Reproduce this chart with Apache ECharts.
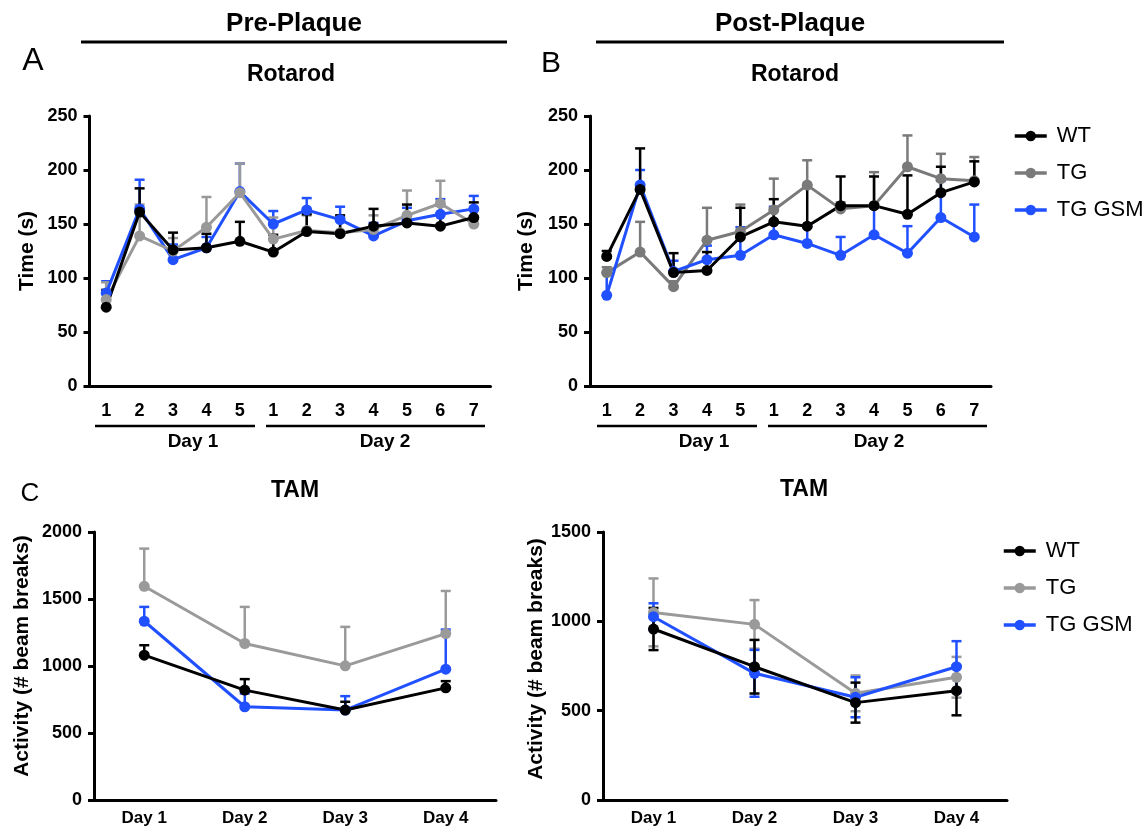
<!DOCTYPE html>
<html><head><meta charset="utf-8">
<script src="https://cdn.jsdelivr.net/npm/echarts@6/dist/echarts.min.js"></script>
<style>html,body{margin:0;padding:0;background:#fff}#c{width:1148px;height:837px}</style>
</head><body><div id="c"></div>
<script>
// ---------- data ----------
const trialLabels = ['1','2','3','4','5','1','2','3','4','5','6','7'];
const dayLabels = ['Day 1','Day 2','Day 3','Day 4'];

// Panel A: Pre-Plaque Rotarod (mean, SEM)
const preRotWT      = [73, 161, 126, 128, 134, 124, 143, 141, 148, 151, 148, 156];
const preRotWTErr   = [16, 22, 16, 13, 18, 16, 16, 17, 16, 17, 19, 14];
const preRotTG      = [80, 139, 125, 147, 179, 136, 144, 142, 145, 158, 169, 150];
const preRotTGErr   = [16, 29, 12, 28, 27, 20, 14, 14, 13, 23, 21, 13];
const preRotGSM     = [86, 164, 117, 128, 180, 150, 163, 154, 139, 153, 159, 164];
const preRotGSMErr  = [11, 27, 14, 10, 26, 12, 11, 12, 12, 12, 14, 12];

// Panel B: Post-Plaque Rotarod
const postRotWT     = [120, 182, 105, 107, 138, 152, 148, 167, 167, 159, 179, 189];
const postRotWTErr  = [5, 38, 18, 17, 27, 21, 38, 27, 27, 36, 24, 19];
const postRotTG     = [105, 124, 92, 135, 143, 163, 186, 164, 167, 203, 192, 190];
const postRotTGErr  = [5, 28, 5, 30, 25, 29, 23, 6, 31, 29, 23, 22];
const postRotGSM    = [84, 186, 106, 117, 121, 140, 132, 121, 140, 123, 156, 138];
const postRotGSMErr = [21, 14, 10, 13, 26, 26, 15, 17, 25, 25, 34, 30];

// Panel C left: Pre-Plaque TAM
const preTamWT      = [1081, 820, 671, 837];
const preTamWTErr   = [74, 82, 62, 50];
const preTamTG      = [1595, 1168, 1001, 1242];
const preTamTGErr   = [281, 273, 291, 318];
const preTamGSM     = [1334, 696, 671, 976];
const preTamGSMErr  = [107, 99, 104, 296];

// Panel C right: Post-Plaque TAM
const postTamWT     = [957, 746, 545, 612];
const postTamWTErr  = [118, 150, 112, 138];
const postTamTG     = [1050, 983, 597, 687];
const postTamTGErr  = [190, 136, 100, 114];
const postTamGSM    = [1026, 709, 575, 746];
const postTamGSMErr = [75, 131, 112, 143];

// ---------- styling ----------
const BLACK = '#000000', BLUE = '#2050ff', GRAY_A = '#999999', GRAY_B = '#7a7a7a', GRAY_C = '#9a9a9a';
const FONT = "'Liberation Sans', Arial, sans-serif";

function errRender(both) {
  return function (params, api) {
    const i = api.value(0), lo = api.value(1), hi = api.value(2);
    const p0 = api.coord([i, lo]), p1 = api.coord([i, hi]);
    const w = 5;
    const style = { stroke: api.visual('color'), lineWidth: 2.5 };
    const ch = [
      { type: 'line', shape: { x1: p0[0], y1: p0[1], x2: p1[0], y2: p1[1] }, style },
      { type: 'line', shape: { x1: p1[0] - w, y1: p1[1], x2: p1[0] + w, y2: p1[1] }, style }
    ];
    if (both) ch.push({ type: 'line', shape: { x1: p0[0] - w, y1: p0[1], x2: p0[0] + w, y2: p0[1] }, style });
    return { type: 'group', children: ch };
  };
}

const series = [];
function addGroup(idx, name, color, mean, err, both) {
  series.push({
    type: 'custom', xAxisIndex: idx, yAxisIndex: idx, silent: true,
    itemStyle: { color }, renderItem: errRender(both),
    encode: { x: 0, y: [1, 2] },
    data: mean.map((m, i) => [i, both ? m - err[i] : m, m + err[i]])
  });
  series.push({
    type: 'line', name, xAxisIndex: idx, yAxisIndex: idx, data: mean,
    symbol: 'circle', symbolSize: 11, showSymbol: true,
    itemStyle: { color }, lineStyle: { color, width: 3 }
  });
}
addGroup(0, 'TG GSM', BLUE, preRotGSM, preRotGSMErr, false);
addGroup(0, 'TG', GRAY_A, preRotTG, preRotTGErr, false);
addGroup(0, 'WT', BLACK, preRotWT, preRotWTErr, false);
addGroup(1, 'TG', GRAY_B, postRotTG, postRotTGErr, false);
addGroup(1, 'TG GSM', BLUE, postRotGSM, postRotGSMErr, false);
addGroup(1, 'WT', BLACK, postRotWT, postRotWTErr, false);
addGroup(2, 'TG', GRAY_C, preTamTG, preTamTGErr, false);
addGroup(2, 'TG GSM', BLUE, preTamGSM, preTamGSMErr, false);
addGroup(2, 'WT', BLACK, preTamWT, preTamWTErr, false);
addGroup(3, 'TG', GRAY_C, postTamTG, postTamTGErr, true);
addGroup(3, 'TG GSM', BLUE, postTamGSM, postTamGSMErr, true);
addGroup(3, 'WT', BLACK, postTamWT, postTamWTErr, true);

const axisLine = { lineStyle: { color: '#000', width: 3 } };
const axisTick = { length: 6, lineStyle: { color: '#000', width: 3 } };
const tickFont = { color: '#000', fontSize: 18, fontWeight: 'bold', fontFamily: FONT };
const nameFont = { color: '#000', fontSize: 21, fontWeight: 'bold', fontFamily: FONT };

function xAx(idx, labels, margin, size) {
  return {
    type: 'category', gridIndex: idx, data: labels, boundaryGap: true,
    axisLine, axisTick: Object.assign({ alignWithLabel: true }, axisTick),
    axisLabel: Object.assign({}, tickFont, { margin, fontSize: size, interval: 0 }),
    splitLine: { show: false }
  };
}
function yAx(idx, max, interval, name, gap, namePad) {
  return {
    type: 'value', gridIndex: idx, min: 0, max, interval, name, nameLocation: 'middle', nameGap: gap,
    nameTextStyle: Object.assign({ padding: namePad }, nameFont),
    axisLine: Object.assign({ show: true }, axisLine), axisTick: Object.assign({ show: true }, axisTick),
    axisLabel: Object.assign({}, tickFont, { margin: 12, formatter: v => String(v) }), splitLine: { show: false }
  };
}

function legendData(gray) {
  return [
    { name: 'WT', itemStyle: { color: BLACK }, lineStyle: { color: BLACK, width: 3.5 } },
    { name: 'TG', itemStyle: { color: gray }, lineStyle: { color: gray, width: 3.5 } },
    { name: 'TG GSM', itemStyle: { color: BLUE }, lineStyle: { color: BLUE, width: 3.5 } }
  ];
}
const legendText = { fontSize: 22, lineHeight: 22, fontFamily: FONT, color: '#000', padding: [0, 0, 0, 5] };

const txt = (x, y, text, size, weight) => ({
  type: 'text', x, y, silent: true,
  style: { text, fontSize: size, fontWeight: weight, fontFamily: FONT, fill: '#000', align: 'center', verticalAlign: 'middle' }
});
const ln = (x1, y1, x2, y2, w) => ({ type: 'line', silent: true, shape: { x1, y1, x2, y2 }, style: { stroke: '#000', lineWidth: w } });

const option = {
  animation: false,
  backgroundColor: '#fff',
  grid: [
    { left: 89.5, top: 116, width: 401, height: 270 },
    { left: 590, top: 116, width: 401, height: 270 },
    { left: 94, top: 532, width: 402, height: 268 },
    { left: 603, top: 532, width: 404, height: 268 }
  ],
  xAxis: [xAx(0, trialLabels, 16, 18), xAx(1, trialLabels, 16, 18), xAx(2, dayLabels, 10, 17), xAx(3, dayLabels, 10, 17)],
  yAxis: [
    yAx(0, 250, 50, 'Time (s)', 52, 0),
    yAx(1, 250, 50, 'Time (s)', 53, 0),
    yAx(2, 2000, 500, 'Activity (# beam breaks)', 61, [0, 0, 0, 20]),
    yAx(3, 1500, 500, 'Activity (# beam breaks)', 56, [0, 0, 0, 14])
  ],
  legend: [
    { orient: 'vertical', left: 1008, top: 120, itemWidth: 32, itemHeight: 13, itemGap: 15, selectedMode: false, textStyle: legendText, data: legendData(GRAY_B) },
    { orient: 'vertical', left: 997, top: 535, itemWidth: 32, itemHeight: 13, itemGap: 15, selectedMode: false, textStyle: legendText, data: legendData(GRAY_C) }
  ],
  graphic: [
    txt(294, 24, 'Pre-Plaque', 26, 'bold'),
    txt(790, 24, 'Post-Plaque', 26, 'bold'),
    ln(81, 42, 507, 42, 3),
    ln(596, 42, 1004, 42, 3),
    txt(33, 61, 'A', 32, 'normal'),
    txt(551, 64, 'B', 30, 'normal'),
    txt(30, 494, 'C', 26, 'normal'),
    txt(291, 75, 'Rotarod', 23, 'bold'),
    txt(795, 75, 'Rotarod', 23, 'bold'),
    txt(295, 491, 'TAM', 23, 'bold'),
    txt(804, 490, 'TAM', 23, 'bold'),
    ln(95, 426, 255, 426, 2.3),
    ln(266, 426, 485, 426, 2.3),
    txt(193, 442, 'Day 1', 19, 'bold'),
    txt(385, 442, 'Day 2', 19, 'bold'),
    ln(597, 426, 757, 426, 2.3),
    ln(768, 426, 987, 426, 2.3),
    txt(704, 442, 'Day 1', 19, 'bold'),
    txt(879, 442, 'Day 2', 19, 'bold')
  ],
  series
};
const chart = echarts.init(document.getElementById('c'), null, { renderer: 'canvas' });
chart.setOption(option);
</script>
</body></html>
